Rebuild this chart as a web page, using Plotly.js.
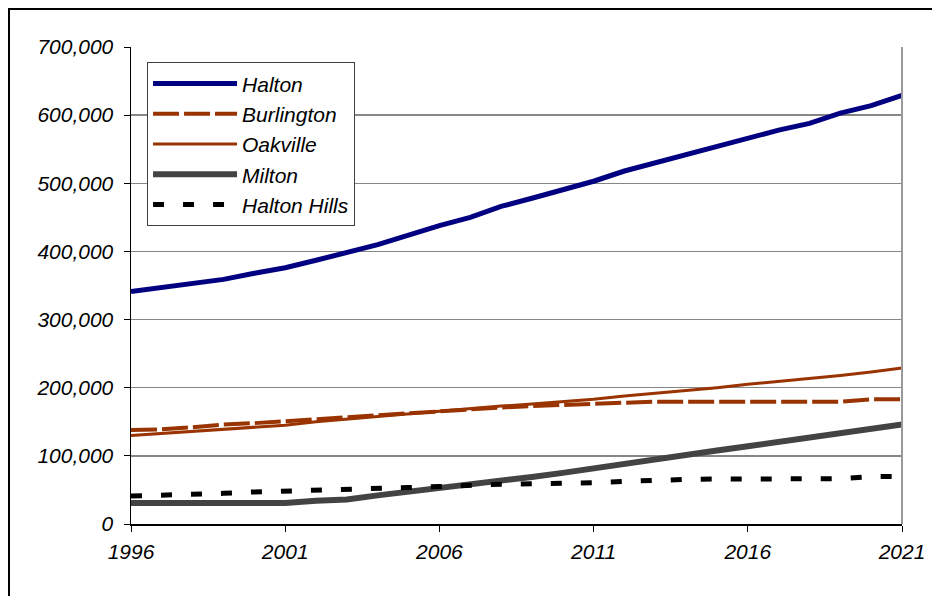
<!DOCTYPE html>
<html>
<head>
<meta charset="utf-8">
<script src="https://cdn.plot.ly/plotly-3.0.1.min.js"></script>
<style>
  html, body { margin: 0; padding: 0; background: #fff; }
  #wrap { position: relative; width: 932px; height: 596px; overflow: hidden; }
  #chart { position: absolute; left: 0; top: 0; width: 932px; height: 596px; }
  #frame { position: absolute; left: 8px; top: 8px; width: 940px; height: 600px;
           border-top: 2px solid #000; border-left: 2px solid #000; pointer-events: none; }
</style>
</head>
<body>
<div id="wrap">
  <div id="chart"></div>
  <div id="frame"></div>
</div>
<script>
const years = [1996,1997,1998,1999,2000,2001,2002,2003,2004,2005,2006,2007,2008,
               2009,2010,2011,2012,2013,2014,2015,2016,2017,2018,2019,2020,2021];

const halton = [341000,347000,353000,359000,368000,376000,387000,398000,410000,424000,
                438000,450000,466000,478000,490000,503000,518000,530000,542000,554000,
                566000,578000,588000,603000,614000,629000];

const burlington = [138000,139000,142000,146000,148000,151000,153000,156000,159000,162000,
                    165000,168000,171000,173000,175000,177000,178000,179500,179500,179500,
                    179500,179500,179500,179500,183000,183000];

const oakville = [130000,133000,136000,140000,142000,145000,150000,154000,158000,161000,
                  165000,170000,173000,176000,179000,183000,188000,192000,195000,200000,
                  205000,209000,214000,218000,223000,229000];

const milton = [31000,31000,31000,31000,31000,31000,34000,36000,42000,47000,
                53000,58000,64000,69000,75000,82000,88000,94000,102000,108000,
                114000,120000,126000,134000,140000,146000];

const haltonHills = [41000,42000,42500,45000,47000,48000,50000,51000,52000,53500,
                     55000,57000,58500,59000,59500,60500,62500,64500,65500,66000,
                     66000,66000,66000,66500,69500,70000];

const seriesNames = ['Halton','Burlington','Oakville','Milton','Halton Hills'];
const yTickVals = [0,100000,200000,300000,400000,500000,600000,700000];
const xTickVals = [1996,2001,2006,2011,2016,2021];

const traces = [
  {x: years, y: halton, name: seriesNames[0], legendgroup: 'g1',
   line: {color: '#000080', width: 5}},
  {x: years, y: burlington, name: seriesNames[1], legendgroup: 'g2',
   line: {color: '#993300', width: 4, dash: '26px,5px'}},
  {x: years, y: oakville, name: seriesNames[2], legendgroup: 'g3',
   line: {color: '#993300', width: 3}},
  {x: years, y: milton, name: seriesNames[3], legendgroup: 'g4',
   line: {color: '#434343', width: 6}},
  {x: years, y: haltonHills, name: seriesNames[4], legendgroup: 'g5',
   line: {color: '#000000', width: 5, dash: '11px,19px'}}
].map(t => Object.assign({type: 'scatter', mode: 'lines', hoverinfo: 'skip'}, t));

const layout = {
  width: 932, height: 596,
  margin: {l: 131, r: 30, t: 47, b: 72, pad: 0},
  paper_bgcolor: '#ffffff',
  plot_bgcolor: '#ffffff',
  font: {family: 'Liberation Sans, Arial, sans-serif', size: 21, color: '#000', style: 'italic'},
  showlegend: true,
  legend: {
    x: 0.0208, y: 0.968, xanchor: 'left', yanchor: 'top',
    bgcolor: '#ffffff', bordercolor: '#404040', borderwidth: 1,
    font: {family: 'Liberation Sans, Arial, sans-serif', size: 21, color: '#000', style: 'italic'},
    itemwidth: 84, tracegroupgap: 0, traceorder: 'grouped'
  },
  xaxis: {
    range: [1996, 2021], tickmode: 'array', tickvals: xTickVals,
    ticktext: xTickVals.map(String),
    showgrid: false, zeroline: false,
    showline: true, linecolor: '#000', linewidth: 1.5,
    ticks: 'outside', ticklen: 6, tickcolor: '#000', tickwidth: 1,
    ticklabelstandoff: 2,
    fixedrange: true
  },
  yaxis: {
    range: [0, 700000], tickmode: 'array', tickvals: yTickVals,
    ticktext: yTickVals.map(v => v.toLocaleString('en-US')),
    showgrid: true, gridcolor: '#868686', gridwidth: 1.5,
    zeroline: false,
    showline: true, linecolor: '#000', linewidth: 1.5,
    ticks: 'outside', ticklen: 6, tickcolor: '#000', tickwidth: 1,
    ticklabelstandoff: 6,
    fixedrange: true
  },
  shapes: [
    {type: 'line', xref: 'paper', yref: 'paper', x0: 1, x1: 1, y0: 0, y1: 1,
     line: {color: '#9a9a9a', width: 2}}
  ]
};

Plotly.newPlot('chart', traces, layout, {staticPlot: true, displayModeBar: false});
</script>
</body>
</html>
